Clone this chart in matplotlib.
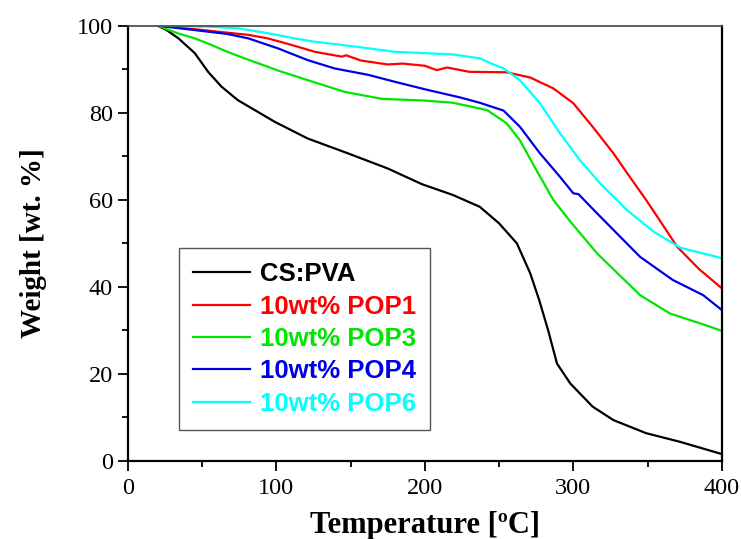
import matplotlib
matplotlib.use('Agg')
import matplotlib.pyplot as plt
from matplotlib.ticker import MultipleLocator

# TGA curves (temperature in C, weight in wt.%)
cs_x = [20, 26, 34, 45, 54, 63, 74, 99, 121, 148, 175, 198, 219, 237, 250, 262,
        271, 277, 283, 289, 298, 313, 327, 349, 372, 400]
cs_y = [100, 99, 97.1, 93.7, 89.4, 86, 82.9, 77.9, 74.1, 70.7, 67.2, 63.6, 61.1,
        58.4, 54.6, 50, 43.1, 37, 30.1, 22.4, 17.8, 12.5, 9.4, 6.4, 4.4, 1.6]

pop1_x = [20, 45, 67, 81, 94, 108, 126, 144, 147, 157, 175, 185, 200, 208, 215,
          230, 255, 271, 286.5, 300, 313, 327, 338, 349, 358, 370, 385, 400]
pop1_y = [100, 99.2, 98.4, 97.9, 97.1, 95.8, 94, 92.9, 93.2, 92, 91.1, 91.3, 90.8,
          89.8, 90.4, 89.4, 89.3, 88.1, 85.6, 82.2, 76.8, 70.7, 65.3, 60, 55.4,
          49.2, 44, 39.7]

pop3_x = [20, 34, 45, 56, 67, 78.5, 94, 101, 121, 146, 171, 200, 219, 242, 255,
          264, 275, 286.5, 298, 316, 345, 365, 390, 400]
pop3_y = [100, 98.2, 97.1, 95.6, 94, 92.5, 90.6, 89.7, 87.5, 84.8, 83.2, 82.8,
          82.3, 80.6, 77.6, 73.7, 66.9, 60, 55, 47.7, 38.1, 33.9, 31.1, 29.9]

pop4_x = [20, 45, 67, 81, 101, 121, 139, 162, 180, 200, 224, 237, 253, 264, 277.5,
          291, 300, 303.5, 316, 336, 345, 357, 367, 387.5, 400]
pop4_y = [100, 99, 98.1, 97.1, 94.8, 92.1, 90.2, 88.7, 87.1, 85.4, 83.5, 82.3,
          80.5, 76.8, 70.7, 65.3, 61.5, 61.3, 56.9, 50, 46.9, 44, 41.6, 38.1, 34.7]

pop6_x = [20, 54, 74, 94, 112, 126, 144, 162, 180, 200, 219, 237, 244, 253, 264,
          277.5, 291, 304.5, 318, 336, 354, 372, 385, 400]
pop6_y = [100, 99.8, 99.4, 98.3, 97.1, 96.3, 95.6, 94.8, 94, 93.7, 93.4, 92.5,
          91.4, 90.2, 87.5, 82.2, 75.3, 69.1, 63.8, 57.7, 52.7, 49, 47.9, 46.6]

labels = ['CS:PVA', '10wt% POP1', '10wt% POP3', '10wt% POP4', '10wt% POP6']
colors = ['black', '#ff0000', '#00e600', '#0000e6', '#00ffff']
series = [(cs_x, cs_y), (pop1_x, pop1_y), (pop3_x, pop3_y),
          (pop4_x, pop4_y), (pop6_x, pop6_y)]

fig = plt.figure(figsize=(7.41, 5.39), dpi=100)
ax = fig.add_axes([0.1727, 0.1447, 0.8013, 0.8076])

for (xs, ys), lab, c in zip(series, labels, colors):
    ax.plot(xs, ys, color=c, lw=1.6, label=lab)

ax.set_xlim(0, 400)
ax.set_ylim(0, 100)
ax.xaxis.set_major_locator(MultipleLocator(100))
ax.xaxis.set_minor_locator(MultipleLocator(50))
ax.yaxis.set_major_locator(MultipleLocator(20))
ax.yaxis.set_minor_locator(MultipleLocator(10))
ax.tick_params(which='major', direction='out', length=7, width=1.3,
               labelsize=17.5, top=False, right=False)
ax.tick_params(axis='y', which='major', pad=4)
ax.tick_params(axis='x', which='major', pad=5)
ax.tick_params(which='minor', direction='out', length=4, width=1.3,
               top=False, right=False)
for lbl in ax.get_xticklabels() + ax.get_yticklabels():
    lbl.set_fontfamily('Liberation Serif')
for s in ['left', 'bottom', 'right']:
    ax.spines[s].set_linewidth(1.6)
ax.spines['top'].set_linewidth(1.2)
ax.spines['top'].set_color('#444444')

ax.set_xlabel('Temperature [ºC]', fontfamily='Liberation Serif',
              fontweight='bold', fontsize=22, labelpad=9)
ax.set_ylabel('Weight [wt. %]', fontfamily='Liberation Serif',
              fontweight='bold', fontsize=21, labelpad=21)

leg = ax.legend(loc='lower left', bbox_to_anchor=(0.086, 0.071),
                borderaxespad=0, fancybox=False, edgecolor='#555555',
                framealpha=1, handlelength=2.2, handletextpad=0.4,
                labelspacing=0.33, borderpad=0.55,
                prop={'family': 'Liberation Sans', 'weight': 'bold', 'size': 18.5})
leg.get_frame().set_linewidth(1.0)
for t, c in zip(leg.get_texts(), colors):
    t.set_color(c)

plt.savefig('out.png', dpi=100)
